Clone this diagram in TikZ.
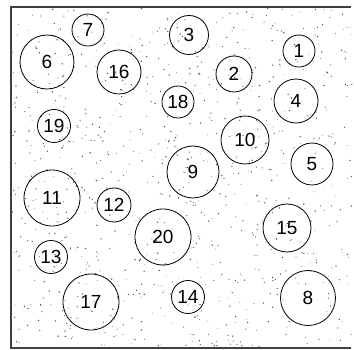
\documentclass[tikz,border=0pt]{standalone}
\usepackage{fontspec}
\setmainfont{Liberation Sans}
\begin{document}
\begin{tikzpicture}[x=1pt,y=-1pt,
  ball/.style={circle,draw=black,line width=0.8pt,inner sep=0pt,minimum size=#1,font=\fontsize{19}{19}\selectfont},
  frame/.style={draw=black!75,line width=1.3pt}]
\useasboundingbox (0,0) rectangle (354,350);
\pgfmathsetseed{7}
\foreach \i in {1,...,900}{
  \pgfmathsetmacro{\px}{12+rnd*340}
  \pgfmathsetmacro{\py}{8+rnd*340}
  \pgfmathsetmacro{\pr}{0.35+rnd*0.45}
  \fill[black!70] (\px,\py) circle (\pr pt);
}
\coordinate (tl) at (11,7);
\coordinate (tr) at (351,7);
\coordinate (bl) at (11,348);
\coordinate (br) at (351,348);
\draw[frame] (tr) -- (tl) -- (bl) -- (br);
\node[ball=39pt] (n3) at (189,35) {3};
\node[ball=32pt] (n7) at (88,30) {7};
\node[ball=54pt] (n6) at (47,62) {6};
\node[ball=44pt] (n16) at (119,72) {16};
\node[ball=32pt] (n1) at (299,51) {1};
\node[ball=36pt] (n2) at (234,74) {2};
\node[ball=32pt] (n18) at (178,102) {18};
\node[ball=44pt] (n4) at (296,101) {4};
\node[ball=33pt] (n19) at (54,126) {19};
\node[ball=48pt] (n10) at (245,140) {10};
\node[ball=52pt] (n9) at (193,172) {9};
\node[ball=42pt] (n5) at (312,164) {5};
\node[ball=56pt] (n11) at (52,198) {11};
\node[ball=34pt] (n12) at (114,205) {12};
\node[ball=56pt] (n20) at (163,237) {20};
\node[ball=48pt] (n15) at (287,228) {15};
\node[ball=33pt] (n13) at (51,257) {13};
\node[ball=56pt] (n17) at (91,302) {17};
\node[ball=33pt] (n14) at (188,297) {14};
\node[ball=55pt] (n8) at (308,298) {8};
\end{tikzpicture}
\end{document}
